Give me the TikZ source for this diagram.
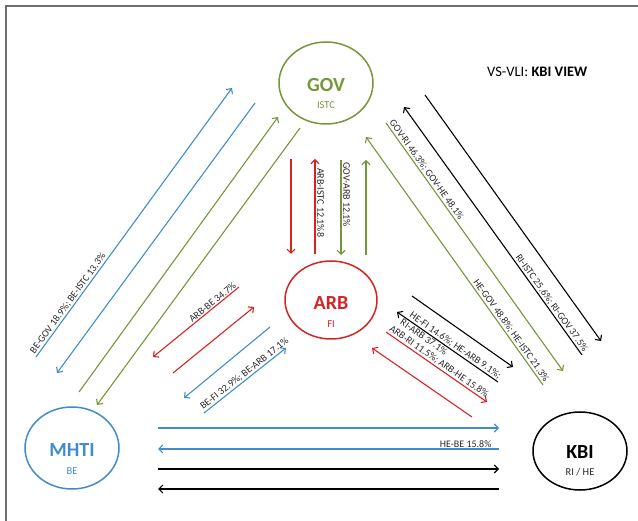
\documentclass[tikz,border=0pt]{standalone}
\usepackage{fontspec}
\setmainfont{Carlito}
\usetikzlibrary{arrows.meta,shapes.geometric}
\definecolor{cblue}{RGB}{65,140,205}
\definecolor{cgreen}{RGB}{118,150,58}
\definecolor{cred}{RGB}{215,35,35}
\definecolor{cframe}{RGB}{110,110,110}
\definecolor{ctext}{RGB}{40,40,40}
\begin{document}
\begin{tikzpicture}[x=1pt,y=-1pt,
  hub/.style={ellipse,draw,line width=1.5pt,minimum width=94pt,minimum height=82pt,inner sep=0pt},
  flow/.style={line width=1.1pt,-{Straight Barb[length=4pt,width=8pt]}},
  rflow/.style={line width=1.1pt,{Straight Barb[length=4pt,width=8pt]}-},
  lab/.style={font=\fontsize{10}{11}\selectfont,text=ctext,inner sep=1pt},
  hubtitle/.style={font=\fontsize{20}{22}\selectfont\bfseries,inner sep=0pt},
  hubsub/.style={font=\fontsize{10.5}{12}\selectfont,inner sep=0pt},
]
\useasboundingbox (0,0) rectangle (638,521);
% frame
\coordinate (fTL) at (6,6);
\coordinate (fTR) at (638,6);
\coordinate (fBL) at (6,521);
\draw[cframe,line width=2pt] (fTR) -- (fTL) -- (fBL);
% title
\node[anchor=west,font=\fontsize{14.5}{16}\selectfont,inner sep=0pt] (title) at (487,72) {VS-VLI: \textbf{KBI VIEW}};
% hubs
\node[hub,draw=cgreen] (gov) at (326,83) {};
\node[hubtitle,text=cgreen] (govt) at (326,85) {GOV};
\node[hubsub,text=cgreen] (govs) at (326,105) {ISTC};
\node[hub,draw=cred,minimum width=92pt,minimum height=78pt] (arb) at (331,300) {};
\node[hubtitle,text=cred] (arbt) at (331,303) {ARB};
\node[hubsub,text=cred] (arbs) at (331,324) {FI};
\node[hub,draw=cblue] (mhti) at (72,448) {};
\node[hubtitle,text=cblue] (mhtit) at (72,450) {MHTI};
\node[hubsub,text=cblue] (mhtis) at (72,471) {BE};
\node[hub,draw=black,minimum height=78pt] (kbi) at (580,451) {};
\node[hubtitle,text=black] (kbit) at (580,452) {KBI};
\node[hubsub,text=ctext] (kbis) at (580,472) {RI / HE};
% vertical GOV-ARB
\coordinate (v1a) at (291,159); \coordinate (v1b) at (291,254);
\coordinate (v2a) at (315,254); \coordinate (v2b) at (315,159);
\coordinate (v3a) at (341,160); \coordinate (v3b) at (341,255);
\coordinate (v4a) at (366,255); \coordinate (v4b) at (366,160);
\draw[flow,cred] (v1a) -- (v1b);
\draw[flow,cred] (v2a) -- (v2b);
\draw[flow,cgreen] (v3a) -- (v3b);
\draw[flow,cgreen] (v4a) -- (v4b);
\node[lab,rotate=-90,anchor=south west] (lv2) at (316,167) {ARB-ISTC 12.1\%8};
\node[lab,rotate=-90,anchor=south west] (lv3) at (342,161) {GOV-ARB 12.1\%};
% left long diagonals
\coordinate (b1a) at (36,357); \coordinate (b1b) at (232,88);
\coordinate (b2a) at (255,103); \coordinate (b2b) at (57,373);
\coordinate (g1a) at (79,392); \coordinate (g1b) at (278,117);
\coordinate (g2a) at (300,128); \coordinate (g2b) at (97,405);
\draw[flow,cblue] (b1a) -- node[lab,pos=0,sloped,anchor=south west] (lb1) {BE-GOV 18.9\%; BE-ISTC 13.3\%} (b1b);
\draw[flow,cblue] (b2a) -- (b2b);
\draw[flow,cgreen] (g1a) -- (g1b);
\draw[flow,cgreen] (g2a) -- (g2b);
% left short diagonals
\coordinate (r3a) at (153,357); \coordinate (r3b) at (239,287);
\coordinate (r4a) at (173,373); \coordinate (r4b) at (254,307);
\coordinate (b3a) at (270,327); \coordinate (b3b) at (184,398);
\coordinate (b4a) at (204,413); \coordinate (b4b) at (286,348);
\draw[rflow,cred] (r3a) -- node[lab,pos=1,sloped,anchor=south east] (lr3) {ARB-BE 34.7\%} (r3b);
\draw[flow,cred] (r4a) -- (r4b);
\draw[flow,cblue] (b3a) -- (b3b);
\draw[flow,cblue] (b4a) -- node[lab,pos=0,sloped,anchor=south west] (lb4) {BE-FI 32.9\%; BE-ARB 17.1\%} (b4b);
% right long diagonals
\coordinate (k1a) at (425,95); \coordinate (k1b) at (601,341);
\coordinate (k2a) at (404,107); \coordinate (k2b) at (582,355);
\coordinate (g3a) at (386,123); \coordinate (g3b) at (563,371);
\coordinate (g4a) at (366,137); \coordinate (g4b) at (543,385);
\draw[flow,black] (k1a) -- (k1b);
\draw[rflow,black] (k2a) -- node[lab,pos=1,sloped,anchor=south east] (lk2) {RI-ISTC 25.6\%; RI-GOV 37.5\%} (k2b);
\draw[flow,cgreen] (g3a) -- node[lab,pos=0,sloped,anchor=south west] (lg3) {GOV-RI 46.3\%; GOV-HE 48.1\%} (g3b);
\draw[rflow,cgreen] (g4a) -- node[lab,pos=1,sloped,anchor=south east] (lg4) {HE-GOV 48.8\%; HE-ISTC 21.3\%} (g4b);
% right short diagonals
\coordinate (k3a) at (412,296); \coordinate (k3b) at (513,367);
\coordinate (k4a) at (397,312); \coordinate (k4b) at (498,382);
\coordinate (r5a) at (386,332); \coordinate (r5b) at (487,402);
\coordinate (r6a) at (472,417); \coordinate (r6b) at (372,348);
\draw[flow,black] (k3a) -- (k3b);
\draw[rflow,black] (k4a) -- node[lab,pos=1,sloped,anchor=south east] (lk4) {HE-FI 14.6\%; HE-ARB 9.1\%;}
  node[lab,pos=0.06,sloped,anchor=north west] (lk4b) {RI-ARB 37.1\%} (k4b);
\draw[flow,cred] (r5a) -- node[lab,pos=0,sloped,anchor=south west] (lr5) {ARB-RI 11.5\%; ARB-HE 15.8\%} (r5b);
\draw[flow,cred] (r6a) -- (r6b);
% horizontal
\coordinate (h1a) at (158,428); \coordinate (h1b) at (499,428);
\coordinate (h2a) at (499,449); \coordinate (h2b) at (158,449);
\coordinate (h3a) at (158,469); \coordinate (h3b) at (499,469);
\coordinate (h4a) at (499,489); \coordinate (h4b) at (158,489);
\draw[flow,cblue] (h1a) -- (h1b);
\draw[flow,cblue] (h2a) -- node[lab,pos=0,anchor=south east,xshift=-6pt] (lh2) {HE-BE 15.8\%} (h2b);
\draw[flow,black] (h3a) -- (h3b);
\draw[flow,black] (h4a) -- (h4b);
\end{tikzpicture}
\end{document}
